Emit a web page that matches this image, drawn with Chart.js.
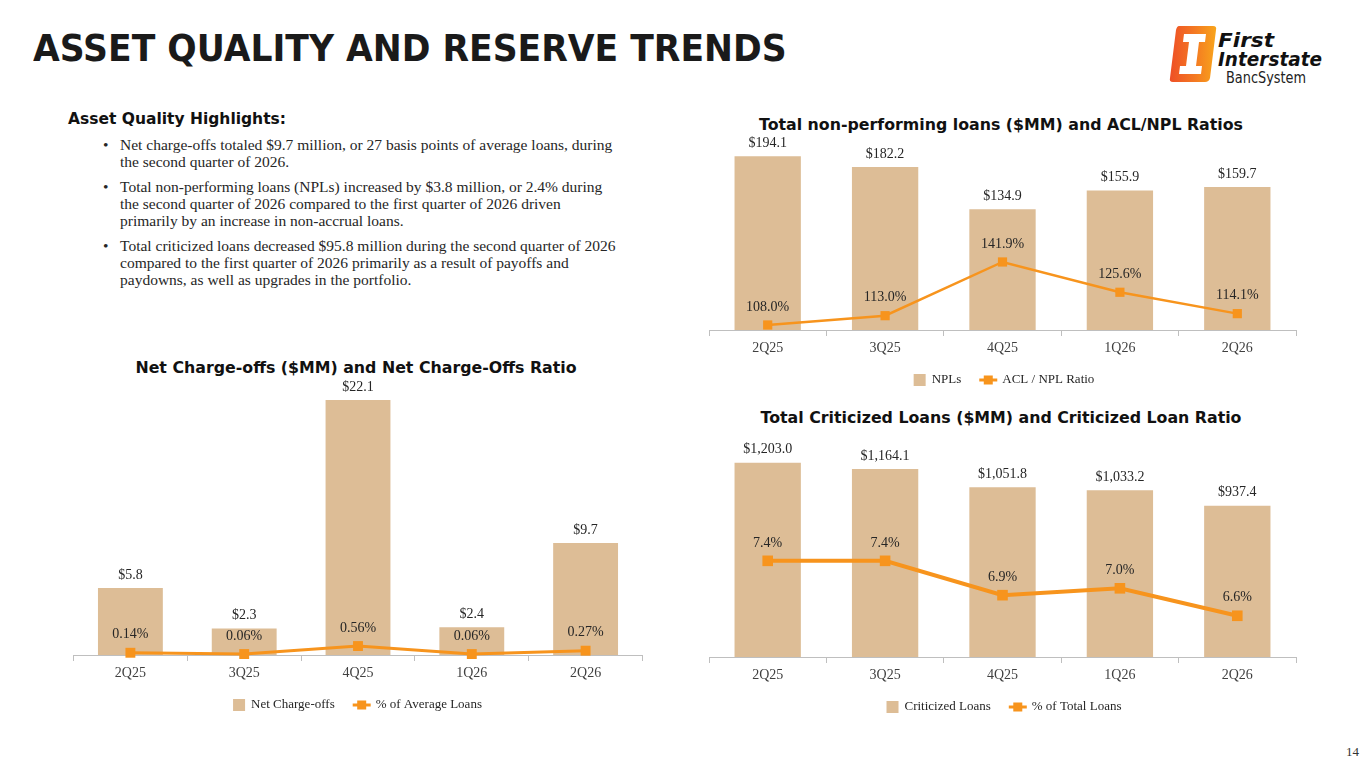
<!DOCTYPE html>
<html>
<head>
<meta charset="utf-8">
<script src="https://cdn.jsdelivr.net/npm/chart.js@4.4.0/dist/chart.umd.min.js"></script>
<style>
body { margin:0; width:1365px; height:768px; background:#fff; position:relative; overflow:hidden; font-family:"Liberation Serif", serif; color:#262626; }
.abs { position:absolute; }
#title { left:33px; top:29px; font:bold 38px/38px "DejaVu Sans"; color:#1a1a1a; transform:scaleX(0.91); transform-origin:left top; white-space:nowrap; }
#hl { left:68px; top:109px; font:bold 15.5px/20px "DejaVu Sans"; color:#111; white-space:nowrap; }
#bullets { left:103px; top:136px; font-size:15.5px; line-height:17px; color:#262626; }
#bullets p { margin:0 0 8px 0; padding-left:17px; position:relative; white-space:nowrap; }
#bullets p:before { content:"\2022"; position:absolute; left:0; top:0; }
.ctitle { width:600px; text-align:center; font:bold 15.8px/20px "DejaVu Sans"; color:#111; white-space:nowrap; }
.box canvas { display:block; }
#pg { left:1346px; top:744px; font-size:13px; color:#333; }
</style>
</head>
<body>
<div id="title" class="abs">ASSET QUALITY AND RESERVE TRENDS</div>

<svg class="abs" style="left:1165px;top:20px" width="170" height="70" viewBox="0 0 170 70">
  <defs>
    <linearGradient id="lg" x1="0" y1="0" x2="1" y2="0">
      <stop offset="0" stop-color="#EE4F26"/>
      <stop offset="0.55" stop-color="#F47A22"/>
      <stop offset="1" stop-color="#F8A51B"/>
    </linearGradient>
  </defs>
  <path d="M14 6 H48 Q52 6 51 10 L45 58 Q44 62 40 62 H8 Q4 62 5 58 L11 10 Q12 6 14 6 Z" fill="url(#lg)"/>
  <path d="M19 14 H41 L40 22 H34 L31 46 H37 L36 54 H14 L15 46 H21 L24 22 H18 Z" fill="#fff"/>
  <text x="53" y="27" font-family="DejaVu Sans" font-weight="bold" font-style="italic" font-size="20" fill="#111" textLength="56" lengthAdjust="spacingAndGlyphs">First</text>
  <text x="53" y="46" font-family="DejaVu Sans" font-weight="bold" font-style="italic" font-size="20" fill="#111" textLength="104" lengthAdjust="spacingAndGlyphs">Interstate</text>
  <text x="61" y="63" font-family="DejaVu Sans" font-size="15" fill="#222" textLength="80" lengthAdjust="spacingAndGlyphs">BancSystem</text>
</svg>

<div id="hl" class="abs">Asset Quality Highlights:</div>
<div id="bullets" class="abs">
  <p>Net charge-offs totaled $9.7 million, or 27 basis points of average loans, during<br>the second quarter of 2026.</p>
  <p>Total non-performing loans (NPLs) increased by $3.8 million, or 2.4% during<br>the second quarter of 2026 compared to the first quarter of 2026 driven<br>primarily by an increase in non-accrual loans.</p>
  <p>Total criticized loans decreased $95.8 million during the second quarter of 2026<br>compared to the first quarter of 2026 primarily as a result of payoffs and<br>paydowns, as well as upgrades in the portfolio.</p>
</div>

<div class="abs ctitle" style="left:701px;top:115px">Total non-performing loans ($MM) and ACL/NPL Ratios</div>
<div class="abs ctitle" style="left:56px;top:358px">Net Charge-offs ($MM) and Net Charge-Offs Ratio</div>
<div class="abs ctitle" style="left:701px;top:408px">Total Criticized Loans ($MM) and Criticized Loan Ratio</div>

<div class="abs box" style="left:700px;top:125px;width:605px;height:275px"><canvas id="nplChart"></canvas></div>
<div class="abs box" style="left:60px;top:375px;width:595px;height:345px"><canvas id="ncoChart"></canvas></div>
<div class="abs box" style="left:700px;top:420px;width:605px;height:300px"><canvas id="critChart"></canvas></div>

<div id="pg" class="abs">14</div>

<script>
const quarters = ['2Q25', '3Q25', '4Q25', '1Q26', '2Q26'];
const nplValues = [194.1, 182.2, 134.9, 155.9, 159.7];
const aclNplRatio = [108.0, 113.0, 141.9, 125.6, 114.1];
const ncoValues = [5.8, 2.3, 22.1, 2.4, 9.7];
const ncoRatio = [0.14, 0.06, 0.56, 0.06, 0.27];
const criticizedValues = [1203.0, 1164.1, 1051.8, 1033.2, 937.4];
const criticizedRatio = [7.4, 7.4, 6.9, 7.0, 6.6];

const barColor = '#DDBD96';
const lineColor = '#F7941D';
const textColor = '#262626';

const money = v => '$' + v.toLocaleString('en-US', { minimumFractionDigits: 1, maximumFractionDigits: 1 });

// rótulos de valor em cima das barras e dos pontos
const valueLabels = {
    id: 'valueLabels',
    afterDatasetsDraw(chart) {
        const ctx = chart.ctx;
        chart.data.datasets.forEach((ds, i) => {
            const meta = chart.getDatasetMeta(i);
            ctx.save();
            ctx.font = '14px "Liberation Serif"';
            ctx.fillStyle = textColor;
            ctx.textAlign = 'center';
            ctx.textBaseline = 'middle';
            meta.data.forEach((el, j) => {
                ctx.fillText(ds.fmt(ds.data[j]), el.x, el.y - ds.labelGap);
            });
            ctx.restore();
        });
    }
};

// legenda no estilo do slide (caixa + linha com marcador)
const slideLegend = {
    id: 'slideLegend',
    afterDraw(chart, args, opts) {
        const ctx = chart.ctx;
        const bar = chart.data.datasets.find(d => d.type === 'bar');
        const line = chart.data.datasets.find(d => d.type === 'line');
        ctx.save();
        ctx.font = '13px "Liberation Serif"';
        const w1 = ctx.measureText(bar.label).width;
        const w2 = ctx.measureText(line.label).width;
        const total = 12 + 6 + w1 + 18 + 18 + 5 + w2;
        let x = opts.cx - total / 2;
        const y = chart.chartArea.bottom + opts.dy;
        ctx.fillStyle = bar.backgroundColor;
        ctx.fillRect(x, y - 6, 12, 12);
        x += 18;
        ctx.fillStyle = textColor;
        ctx.textBaseline = 'middle';
        ctx.fillText(bar.label, x, y);
        x += w1 + 18;
        ctx.strokeStyle = line.borderColor;
        ctx.lineWidth = 3;
        ctx.beginPath();
        ctx.moveTo(x, y);
        ctx.lineTo(x + 18, y);
        ctx.stroke();
        ctx.fillStyle = line.borderColor;
        ctx.fillRect(x + 4.5, y - 4.5, 9, 9);
        x += 23;
        ctx.fillStyle = textColor;
        ctx.fillText(line.label, x, y);
        ctx.restore();
    }
};

function makeChart(id, cfg) {
    return new Chart(document.getElementById(id), {
        data: {
            labels: quarters,
            datasets: [{
                type: 'line',
                label: cfg.lineLabel,
                data: cfg.lineData,
                yAxisID: 'y1',
                borderColor: lineColor,
                backgroundColor: lineColor,
                borderWidth: cfg.lineWidth,
                pointStyle: 'rect',
                pointRadius: cfg.pointRadius,
                pointBackgroundColor: lineColor,
                pointBorderWidth: 0,
                tension: 0,
                clip: false,
                order: 1,
                fmt: cfg.lineFmt,
                labelGap: 18
            }, {
                type: 'bar',
                label: cfg.barLabel,
                data: cfg.barData,
                yAxisID: 'y',
                backgroundColor: barColor,
                categoryPercentage: 1,
                barPercentage: cfg.barPct,
                order: 2,
                fmt: money,
                labelGap: 13
            }]
        },
        options: {
            responsive: true,
            maintainAspectRatio: false,
            animation: false,
            layout: { padding: cfg.padding },
            plugins: {
                legend: { display: false },
                tooltip: { enabled: false },
                slideLegend: { cx: cfg.legendX, dy: 50 }
            },
            scales: {
                x: {
                    afterFit: s => { s.height = 28; },
                    grid: { display: true, drawOnChartArea: false, drawTicks: true, tickLength: 6, color: '#BFBFBF', offset: true },
                    border: { display: true, color: '#BFBFBF' },
                    ticks: { color: '#404040', padding: 4, font: { family: 'Liberation Serif', size: 14 } }
                },
                y: { display: false, min: 0, max: cfg.barMax },
                y1: { display: false, min: cfg.lineMin, max: cfg.lineMax }
            }
        },
        plugins: [valueLabels, slideLegend]
    });
}

makeChart('nplChart', {
    barLabel: 'NPLs', barData: nplValues, barMax: 200, barPct: 0.565,
    lineLabel: 'ACL / NPL Ratio', lineData: aclNplRatio, lineMin: 105.3, lineMax: 201.6,
    lineFmt: v => v.toFixed(1) + '%', lineWidth: 2.5, pointRadius: 6.5,
    padding: { left: 9, right: 9, top: 26, bottom: 42 }, legendX: 304
});

makeChart('ncoChart', {
    barLabel: 'Net Charge-offs', barData: ncoValues, barMax: 22.7, barPct: 0.57,
    lineLabel: '% of Average Loans', lineData: ncoRatio, lineMin: 0, lineMax: 16.4,
    lineFmt: v => v.toFixed(2) + '%', lineWidth: 3, pointRadius: 7,
    padding: { left: 13.5, right: 12.5, top: 18, bottom: 37 }, legendX: 297.5
});

makeChart('critChart', {
    barLabel: 'Criticized Loans', barData: criticizedValues, barMax: 1400, barPct: 0.565,
    lineLabel: '% of Total Loans', lineData: criticizedRatio, lineMin: 6.0, lineMax: 9.29,
    lineFmt: v => v.toFixed(1) + '%', lineWidth: 4, pointRadius: 7.5,
    padding: { left: 9, right: 9, top: 11, bottom: 35 }, legendX: 304
});
</script>
</body>
</html>
